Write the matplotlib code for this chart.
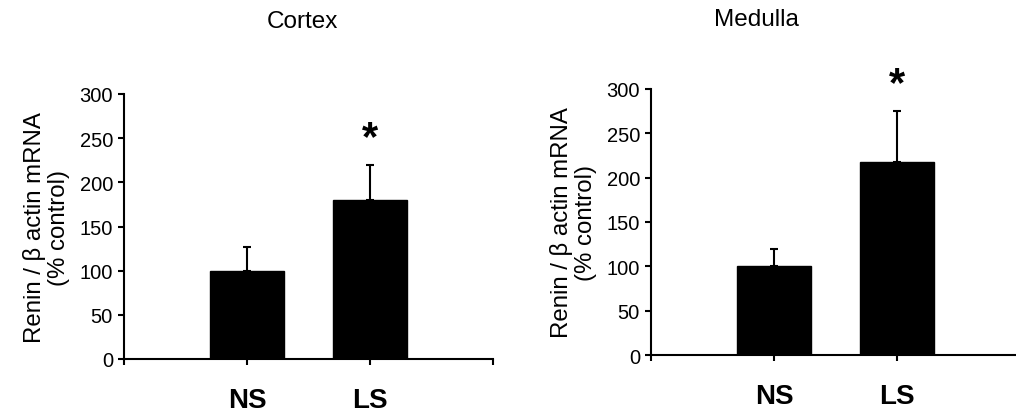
import numpy as np
import matplotlib
matplotlib.use("Agg")
import matplotlib.pyplot as plt

plt.rcParams['font.family'] = ['Liberation Sans', 'DejaVu Sans']

groups = ['NS', 'LS']
cortex_mean = [100, 180]
cortex_err = [27, 40]
medulla_mean = [100, 218]
medulla_err = [19, 57]
# asterisk height (data units) for significant groups
cortex_star = [None, 250]
medulla_star = [None, 306]

W, H = 1016, 414
fig = plt.figure(figsize=(W / 100, H / 100), dpi=100)

def panel(rect, title, title_xy, means, errs, stars):
    ax = fig.add_axes(rect)
    x = np.arange(1, len(means) + 1)
    ax.bar(x, means, width=0.6, color='black', edgecolor='black', zorder=2)
    ax.errorbar(x, means, yerr=[np.zeros(len(errs)), errs], fmt='none',
                ecolor='black', elinewidth=1.5, capsize=3, capthick=1.5, zorder=3)
    for xi, s in zip(x, stars):
        if s is not None:
            ax.text(xi, s, '*', ha='center', va='center', fontsize=30,
                    fontweight='bold', clip_on=False)
    ax.set_xlim(0, 3)
    ax.set_ylim(0, 300)
    ax.set_yticks(np.arange(0, 301, 50))
    ax.set_xticks([0, 1, 2, 3])
    ax.set_xticklabels([''] + groups + [''], fontsize=20, fontweight='bold')
    ax.tick_params(axis='y', labelsize=14.5, length=4, width=1.5, direction='out', pad=4)
    ax.tick_params(axis='x', length=4, width=1.5, direction='out', pad=16)
    for sp in ['top', 'right']:
        ax.spines[sp].set_visible(False)
    for sp in ['left', 'bottom']:
        ax.spines[sp].set_linewidth(1.5)
    ax.set_ylabel('Renin / \u03b2 actin mRNA\n(% control)', fontsize=17.3, labelpad=7,
                  linespacing=1.1)
    fig.text(title_xy[0] / W, 1 - title_xy[1] / H, title, ha='center', va='center',
             fontsize=17.5)
    return ax

panel([124 / W, 1 - 360 / H, 369 / W, 265 / H], 'Cortex', (302, 22),
      cortex_mean, cortex_err, cortex_star)
panel([651 / W, 1 - 356 / H, 369 / W, 266 / H], 'Medulla', (756, 20),
      medulla_mean, medulla_err, medulla_star)

fig.savefig('out.png', dpi=100, facecolor='white')
